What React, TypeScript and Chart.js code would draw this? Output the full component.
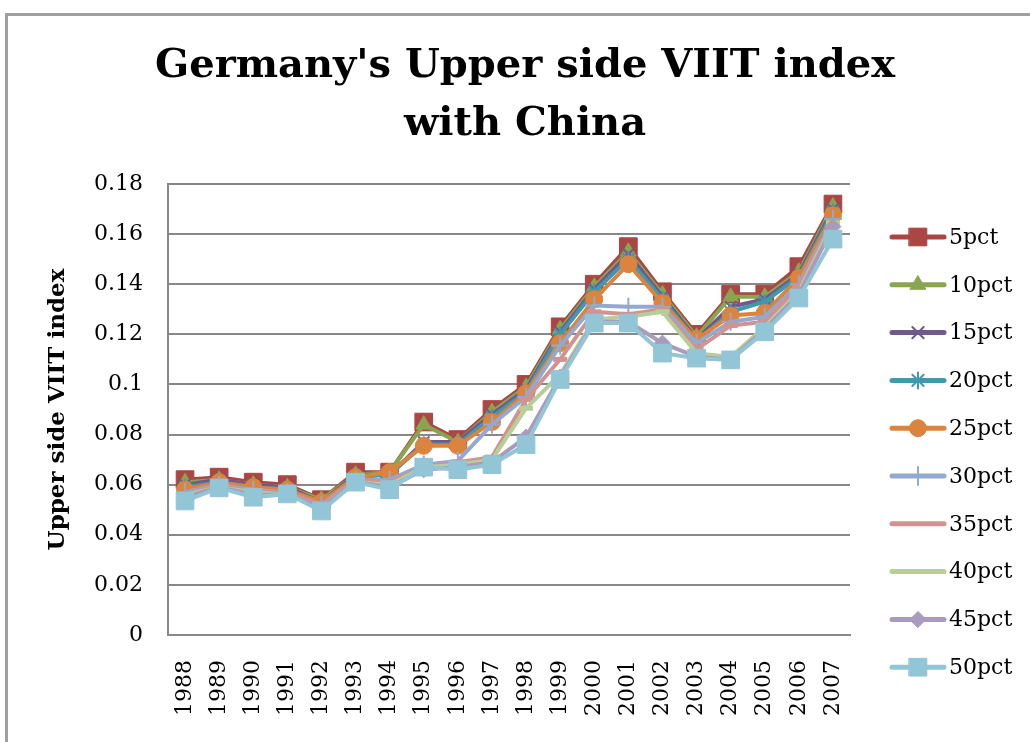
import React, { useEffect, useRef } from 'react';
import { Chart, registerables } from 'chart.js';
import { drawPoint } from 'chart.js/helpers';

Chart.register(...registerables);

const years = ['1988', '1989', '1990', '1991', '1992', '1993', '1994', '1995', '1996', '1997', '1998', '1999', '2000', '2001', '2002', '2003', '2004', '2005', '2006', '2007'];

const pct5 = [0.062, 0.063, 0.061, 0.060, 0.054, 0.065, 0.065, 0.085, 0.078, 0.090, 0.100, 0.123, 0.140, 0.155, 0.137, 0.120, 0.136, 0.136, 0.147, 0.172];
const pct10 = [0.061, 0.062, 0.060, 0.059, 0.054, 0.064, 0.065, 0.084, 0.077, 0.089, 0.099, 0.122, 0.139, 0.153, 0.136, 0.119, 0.135, 0.135, 0.145, 0.171];
const pct15 = [0.060, 0.062, 0.060, 0.059, 0.053, 0.064, 0.064, 0.077, 0.077, 0.088, 0.098, 0.121, 0.138, 0.152, 0.135, 0.118, 0.131, 0.134, 0.144, 0.170];
const pct20 = [0.059, 0.061, 0.059, 0.058, 0.053, 0.063, 0.064, 0.076, 0.076, 0.087, 0.097, 0.120, 0.137, 0.150, 0.134, 0.117, 0.129, 0.133, 0.143, 0.169];
const pct25 = [0.058, 0.061, 0.059, 0.058, 0.053, 0.063, 0.065, 0.0755, 0.0755, 0.085, 0.0965, 0.1165, 0.134, 0.148, 0.1325, 0.118, 0.1275, 0.1285, 0.1425, 0.1675];
const pct30 = [0.057, 0.060, 0.058, 0.057, 0.052, 0.062, 0.062, 0.068, 0.0695, 0.084, 0.095, 0.1155, 0.1315, 0.131, 0.131, 0.1165, 0.125, 0.127, 0.140, 0.166];
const pct35 = [0.056, 0.060, 0.057, 0.057, 0.052, 0.062, 0.061, 0.067, 0.069, 0.071, 0.094, 0.110, 0.129, 0.128, 0.130, 0.114, 0.1235, 0.125, 0.139, 0.165];
const pct40 = [0.056, 0.059, 0.057, 0.056, 0.051, 0.061, 0.060, 0.067, 0.068, 0.070, 0.0905, 0.104, 0.126, 0.127, 0.129, 0.1125, 0.111, 0.123, 0.137, 0.1645];
const pct45 = [0.055, 0.059, 0.056, 0.056, 0.051, 0.061, 0.059, 0.066, 0.067, 0.069, 0.079, 0.103, 0.125, 0.125, 0.1165, 0.111, 0.110, 0.122, 0.136, 0.163];
const pct50 = [0.0535, 0.0587, 0.055, 0.0563, 0.0495, 0.061, 0.058, 0.067, 0.066, 0.068, 0.076, 0.102, 0.1245, 0.1245, 0.1125, 0.1105, 0.1098, 0.121, 0.1345, 0.158];

const seriesNames = ['5pct', '10pct', '15pct', '20pct', '25pct', '30pct', '35pct', '40pct', '45pct', '50pct'];
const seriesValues = [pct5, pct10, pct15, pct20, pct25, pct30, pct35, pct40, pct45, pct50];
const seriesColors = ['#AA4643', '#89A54E', '#71588F', '#4198AF', '#DB843D', '#93A9CF', '#D19392', '#B9CD96', '#A99BBD', '#92C5D6'];
const seriesMarkers = ['rect', 'triangle', 'crossRot', 'star', 'circle', 'cross', 'line', 'line', 'rectRot', 'rect'];
const markerRadius = [12.5, 9, 8, 8, 8.5, 9, 7, 7, 8, 12.5];
const markerBorder = [1, 1, 2, 2, 1, 2, 5, 5, 1, 1];

const yTicks = [0, 0.02, 0.04, 0.06, 0.08, 0.1, 0.12, 0.14, 0.16, 0.18];

const FONT = 'DejaVu Serif';

const sideLegend = {
  id: 'sideLegend',
  afterDraw(chart: any) {
    const ctx = chart.ctx;
    const area = chart.chartArea;
    const x0 = area.right + 42;
    const y0 = area.top + 53;
    const step = 47.8;
    chart.data.datasets.forEach((ds: any, i: number) => {
      const y = y0 + i * step;
      ctx.save();
      ctx.strokeStyle = ds.borderColor;
      ctx.lineWidth = 5;
      ctx.lineCap = 'round';
      ctx.beginPath();
      ctx.moveTo(x0, y);
      ctx.lineTo(x0 + 52, y);
      ctx.stroke();
      ctx.fillStyle = ds.pointBackgroundColor;
      ctx.strokeStyle = ds.pointBorderColor;
      ctx.lineWidth = ds.pointBorderWidth;
      if (ds.pointStyle !== 'line') {
        drawPoint(ctx, { pointStyle: ds.pointStyle, radius: ds.pointRadius, borderWidth: ds.pointBorderWidth, rotation: 0 }, x0 + 26, y);
      }
      ctx.fillStyle = '#000';
      ctx.font = `22px "${FONT}"`;
      ctx.textBaseline = 'middle';
      ctx.textAlign = 'left';
      ctx.fillText(ds.label, x0 + 57, y + 1);
      ctx.restore();
    });
  },
};

export default function App() {
  const canvasRef = useRef<HTMLCanvasElement | null>(null);

  useEffect(() => {
    if (!canvasRef.current) return;
    const datasets = seriesNames.map((name, i) => ({
      label: name,
      data: seriesValues[i],
      borderColor: seriesColors[i],
      backgroundColor: seriesColors[i],
      pointBackgroundColor: seriesColors[i],
      pointBorderColor: seriesColors[i],
      borderWidth: 4,
      pointStyle: seriesMarkers[i],
      pointRadius: markerRadius[i],
      pointBorderWidth: markerBorder[i],
      pointHoverRadius: markerRadius[i],
      tension: 0,
      order: seriesNames.length - 1 - i,
    }));

    const chart = new Chart(canvasRef.current, {
      type: 'line',
      data: { labels: years, datasets },
      plugins: [sideLegend],
      options: {
        animation: false,
        responsive: true,
        maintainAspectRatio: false,
        layout: { padding: { left: 20, right: 0, top: 0, bottom: 0 } },
        plugins: {
          legend: { display: false },
          tooltip: { enabled: false },
          title: {
            display: true,
            text: ["Germany's Upper side VIIT index", 'with China'],
            color: '#000',
            font: { family: FONT, size: 40, weight: 'bold', lineHeight: '58px' },
            padding: { top: 38, bottom: 30 },
          },
        },
        scales: {
          x: {
            offset: true,
            grid: { display: false, drawTicks: false },
            border: { display: true, color: '#888888', width: 2 },
            ticks: {
              autoSkip: false,
              minRotation: 90,
              maxRotation: 90,
              padding: 25,
              color: '#000',
              font: { family: FONT, size: 22 },
            },
            afterFit: (s: any) => { s.height = 107; },
          },
          y: {
            min: yTicks[0],
            max: yTicks[yTicks.length - 1],
            afterBuildTicks: (s: any) => { s.ticks = yTicks.map((v) => ({ value: v })); },
            ticks: {
              padding: 25,
              color: '#000',
              font: { family: FONT, size: 22 },
              callback: (v: any) => String(Math.round(Number(v) * 100) / 100),
            },
            grid: { color: '#888888', lineWidth: 2, drawTicks: false },
            border: { display: true, color: '#888888', width: 2 },
            title: {
              display: true,
              text: 'Upper side VIIT index',
              color: '#000',
              font: { family: FONT, size: 23, weight: 'bold', lineHeight: 1.2 },
              padding: { top: 24, bottom: 0 },
            },
            afterFit: (s: any) => { s.width = 148; },
          },
          spacer: {
            type: 'linear',
            position: 'right',
            display: true,
            grid: { display: false, drawTicks: false },
            border: { display: false },
            ticks: { display: false },
            afterFit: (s: any) => { s.width = 180; },
          },
        },
      } as any,
    });
    return () => chart.destroy();
  }, []);

  return (
    <div style={{ position: 'fixed', left: 0, top: 0, width: 1030, height: 742, overflow: 'hidden', background: '#fff' }}>
      <div style={{ position: 'absolute', left: 5, top: 13, width: 1200, height: 900, borderLeft: '3px solid #a0a0a0', borderTop: '3px solid #a0a0a0' }} />
      <div style={{ position: 'absolute', left: 0, top: 0, width: 1030, height: 742 }}>
        <canvas ref={canvasRef} />
      </div>
    </div>
  );
}
